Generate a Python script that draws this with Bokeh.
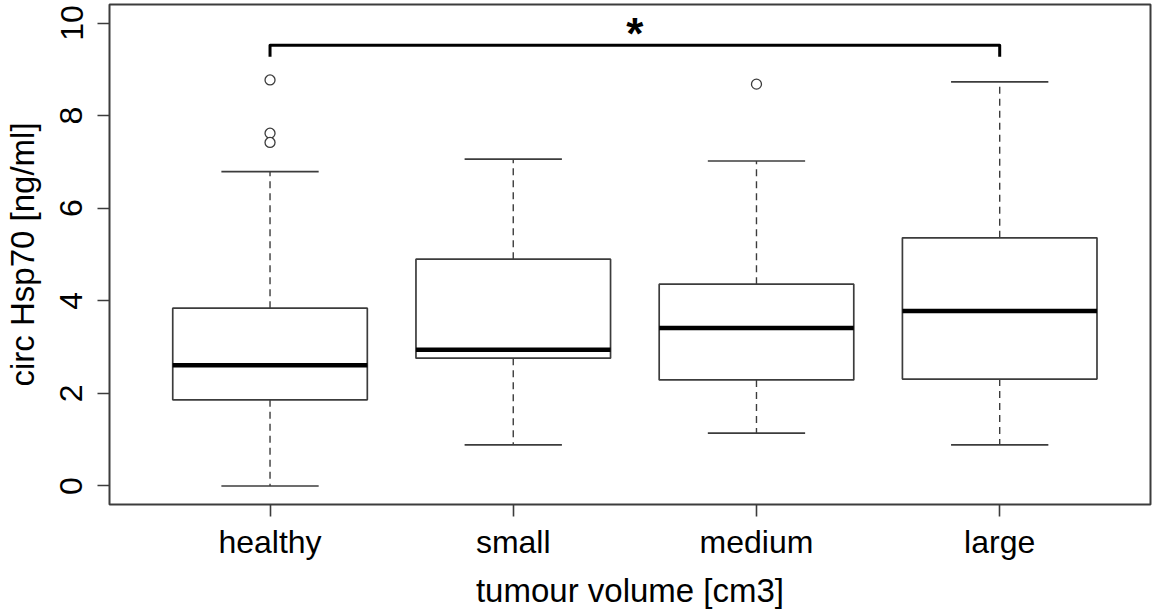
from bokeh.plotting import figure
from bokeh.models import Range1d, FixedTicker, ColumnDataSource, Label
from bokeh.embed import file_html
from bokeh.resources import INLINE

# Group summaries of circulating Hsp70 (ng/ml) by tumour volume
categories = ["healthy", "small", "medium", "large"]
lower_whisker = [0.00, 0.89, 1.14, 0.89]
q1 = [1.86, 2.76, 2.29, 2.31]
median = [2.61, 2.94, 3.41, 3.78]
q3 = [3.84, 4.90, 4.36, 5.36]
upper_whisker = [6.79, 7.06, 7.02, 8.73]

outlier_group = [1, 1, 1, 3]
outlier_value = [8.77, 7.62, 7.42, 8.68]

# significance bracket between healthy (1) and large (4)
bracket_groups = [1, 4]
bracket_top = 9.52
bracket_foot = 9.27
significance = "*"

FONT = "Liberation Sans"
EDGE = "#3c3c3c"
box_w = 0.8
cap_w = 0.4

pos = list(range(1, len(categories) + 1))

p = figure(
    width=1160, height=611,
    x_range=Range1d(0.34, 4.62), y_range=Range1d(-0.4, 10.4),
    output_backend="svg", toolbar_location=None,
    min_border_left=109, min_border_right=10,
    min_border_top=4, min_border_bottom=107,
    background_fill_color="white", border_fill_color="white",
)
p.xgrid.visible = False
p.ygrid.visible = False
p.outline_line_color = EDGE
p.outline_line_width = 2

src = ColumnDataSource(dict(
    x=pos,
    left=[x - box_w / 2 for x in pos],
    right=[x + box_w / 2 for x in pos],
    cl=[x - cap_w / 2 for x in pos],
    cr=[x + cap_w / 2 for x in pos],
    lw=lower_whisker, q1=q1, med=median, q3=q3, uw=upper_whisker,
))

# whiskers (dashed) and caps
p.segment(x0="x", y0="q3", x1="x", y1="uw", source=src,
          line_color=EDGE, line_width=1.4, line_dash="7 5")
p.segment(x0="x", y0="q1", x1="x", y1="lw", source=src,
          line_color=EDGE, line_width=1.4, line_dash="7 5")
p.segment(x0="cl", y0="uw", x1="cr", y1="uw", source=src,
          line_color=EDGE, line_width=1.7)
p.segment(x0="cl", y0="lw", x1="cr", y1="lw", source=src,
          line_color=EDGE, line_width=1.7)

# boxes and medians
p.quad(left="left", right="right", bottom="q1", top="q3", source=src,
       fill_color="white", line_color=EDGE, line_width=1.7)
p.segment(x0="left", y0="med", x1="right", y1="med", source=src,
          line_color="black", line_width=4.5)

# outliers
p.scatter(x=outlier_group, y=outlier_value, size=10, marker="circle",
          fill_color="white", line_color=EDGE, line_width=1.3)

# bracket with significance star
bx = [bracket_groups[0], bracket_groups[0], bracket_groups[1], bracket_groups[1]]
by = [bracket_foot, bracket_top, bracket_top, bracket_foot]
p.line(bx, by, line_color="black", line_width=3, line_join="round")
p.add_layout(Label(
    x=sum(bracket_groups) / 2, y=bracket_top, text=significance,
    text_font=FONT, text_font_size="44px", text_font_style="bold",
    text_align="center", text_baseline="alphabetic", y_offset=12,
    text_color="black",
))

# axes
p.xaxis.ticker = FixedTicker(ticks=pos)
p.xaxis.major_label_overrides = {i: c for i, c in zip(pos, categories)}
p.yaxis.ticker = FixedTicker(ticks=[0, 2, 4, 6, 8, 10])
for ax in (p.xaxis[0], p.yaxis[0]):
    ax.axis_line_color = None
    ax.major_tick_line_color = EDGE
    ax.major_tick_line_width = 1.6
    ax.major_tick_in = 0
    ax.major_tick_out = 12
    ax.minor_tick_line_color = None
    ax.major_label_text_font = FONT
    ax.major_label_text_font_size = "32px"
    ax.major_label_text_color = "black"
    ax.axis_label_text_font = FONT
    ax.axis_label_text_font_size = "33px"
    ax.axis_label_text_font_style = "normal"
    ax.axis_label_text_color = "black"

p.xaxis.axis_label = "tumour volume [cm3]"
p.xaxis.major_label_standoff = 7
p.xaxis.axis_label_standoff = 9
p.yaxis.axis_label = "circ Hsp70 [ng/ml]"
p.yaxis.major_label_orientation = "vertical"
p.yaxis.major_label_standoff = 15
p.yaxis.axis_label_standoff = 17

open("out.html", "w").write(file_html(p, INLINE))
